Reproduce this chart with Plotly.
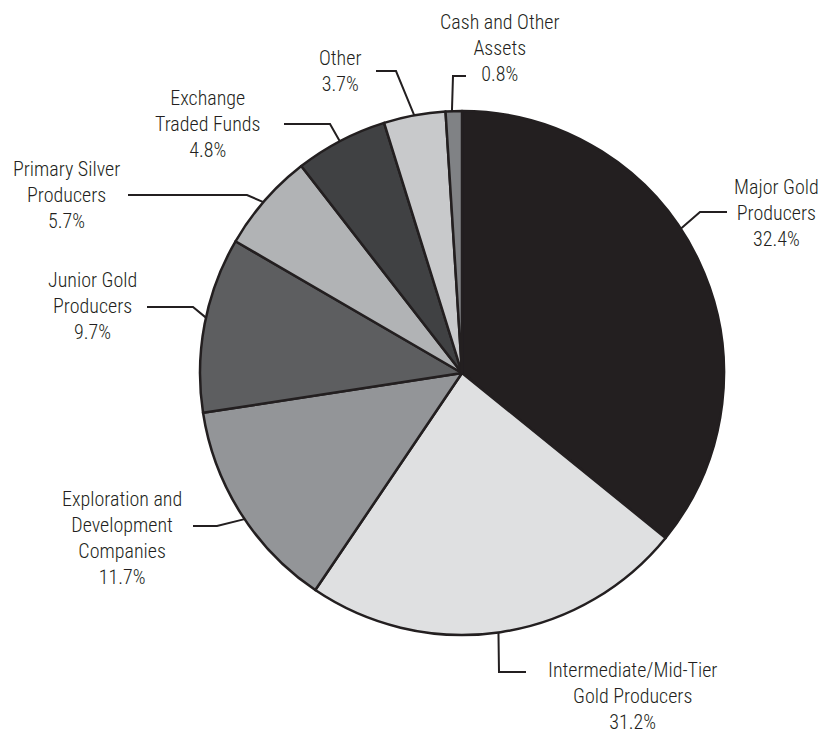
import math
import plotly.graph_objects as go

# ---- data ----
categories = [
    "Major Gold Producers",
    "Intermediate/Mid-Tier Gold Producers",
    "Exploration and Development Companies",
    "Junior Gold Producers",
    "Primary Silver Producers",
    "Exchange Traded Funds",
    "Other",
    "Cash and Other Assets",
]
# slice sizes as drawn in the picture
slice_values = [35.8, 23.6, 13.1, 10.8, 6.1, 5.7, 3.8, 1.0]
# percentages printed in the labels
percent_labels = ["32.4%", "31.2%", "11.7%", "9.7%", "5.7%", "4.8%", "3.7%", "0.8%"]
label_lines = [
    ["Major Gold", "Producers"],
    ["Intermediate/Mid-Tier", "Gold Producers"],
    ["Exploration and", "Development", "Companies"],
    ["Junior Gold", "Producers"],
    ["Primary Silver", "Producers"],
    ["Exchange", "Traded Funds"],
    ["Other"],
    ["Cash and Other", "Assets"],
]

# ---- styles / layout ----
colors = ["#231f20", "#dfe0e1", "#939598", "#5d5e60", "#b1b3b5", "#404143", "#c8c9cb", "#808285"]
INK = "#231f20"
W, H = 825, 735
CX, CY, R = 462, 373, 262
FONT = "Liberation Sans Narrow, Roboto Condensed, Arial Narrow, Liberation Sans, sans-serif"

# label placement: text centre (px), anchor angle on rim (deg clockwise from top), elbow, end
label_layout = [
    dict(tx=776, ty=213, ang=56.6, elbow=(700, 212), end=(727, 212)),
    dict(tx=632, ty=696, ang=172.0, elbow=(499, 672), end=(526, 672)),
    dict(tx=122, ty=538, ang=236.1, elbow=(217, 526), end=(193, 526)),
    dict(tx=92, ty=306, ang=282.2, elbow=(193, 307), end=(147, 307)),
    dict(tx=66, ty=195, ang=310.7, elbow=(247, 195), end=(128, 195)),
    dict(tx=208, ty=124, ang=332.2, elbow=(330, 124), end=(284, 124)),
    dict(tx=340, ty=71, ang=349.5, elbow=(396, 71), end=(376, 71)),
    dict(tx=500, ty=48, ang=357.8, elbow=(453, 76), end=(466, 76)),
]


def px(x):
    return x / W


def py(y):
    return 1 - y / H


fig = go.Figure(
    go.Pie(
        labels=categories,
        values=slice_values,
        sort=False,
        direction="clockwise",
        rotation=0,
        textinfo="none",
        hoverinfo="label+percent",
        marker=dict(colors=colors, line=dict(color=INK, width=2.5)),
        domain=dict(x=[px(CX - R), px(CX + R)], y=[py(CY + R), py(CY - R)]),
        showlegend=False,
    )
)

shapes = []
annotations = []
for lines, pct, lay in zip(label_lines, percent_labels, label_layout):
    a = math.radians(lay["ang"])
    sx = CX + R * math.sin(a)
    sy = CY - R * math.cos(a)
    ex, ey = lay["elbow"]
    fx, fy = lay["end"]
    path = f"M {px(sx)} {py(sy)} L {px(ex)} {py(ey)} L {px(fx)} {py(fy)}"
    shapes.append(dict(type="path", xref="paper", yref="paper", path=path,
                       line=dict(color=INK, width=2)))
    annotations.append(dict(
        x=px(lay["tx"]), y=py(lay["ty"]), xref="paper", yref="paper",
        text="<br>".join(lines + [pct]), showarrow=False,
        xanchor="center", yanchor="middle", align="center",
        font=dict(family=FONT, size=20, color=INK, weight=300),
    ))

fig.update_layout(
    width=W, height=H,
    margin=dict(l=0, r=0, t=0, b=0),
    paper_bgcolor="white", plot_bgcolor="white",
    shapes=shapes, annotations=annotations,
)

fig.write_html("out.html")
